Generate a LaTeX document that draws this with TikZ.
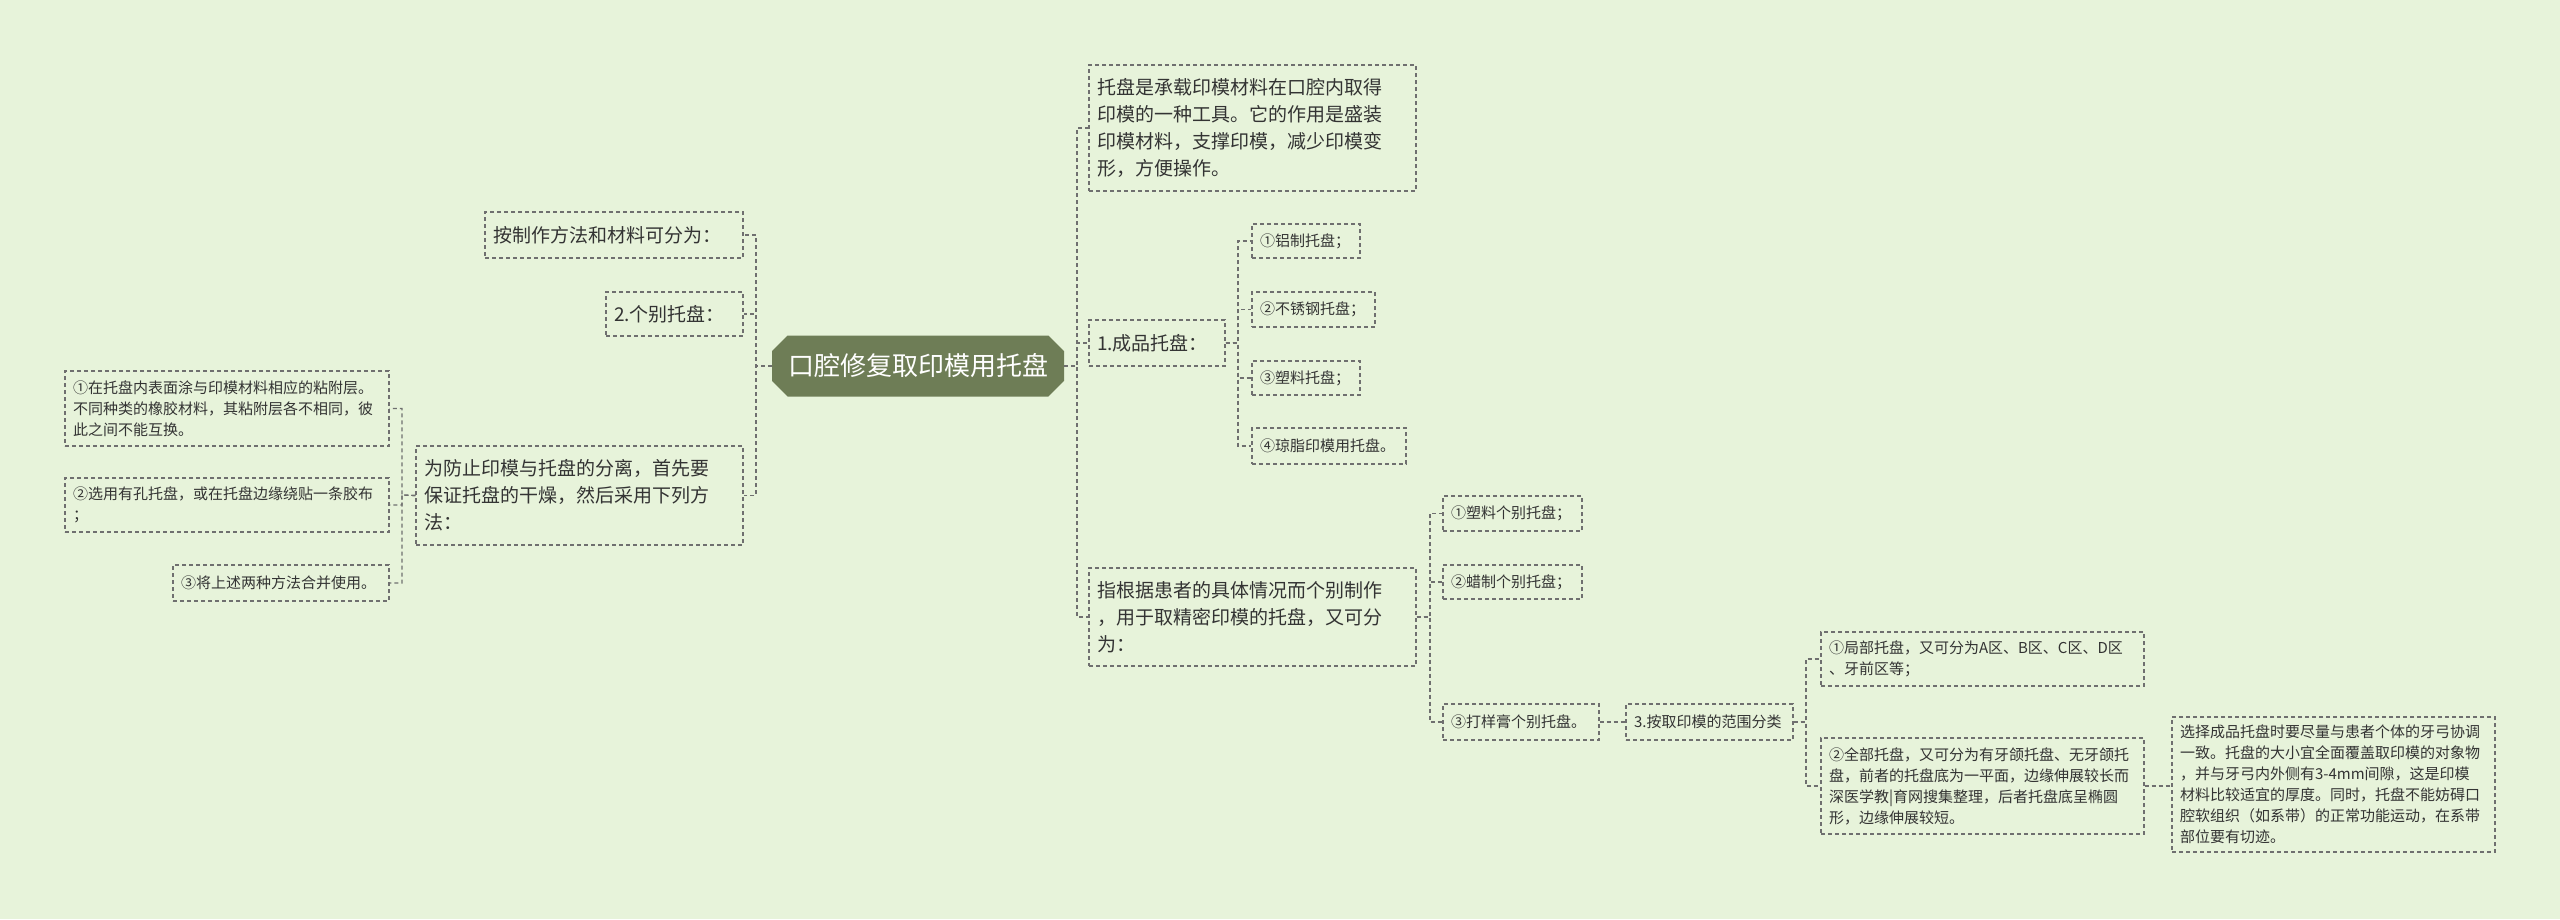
\documentclass[tikz,border=0pt]{standalone}
\usepackage{fontspec}
\setmainfont{Noto Sans CJK SC}
\usetikzlibrary{shapes.misc}
\definecolor{bg}{HTML}{E7F3DA}
\definecolor{rootc}{HTML}{6E7D56}
\definecolor{linec}{HTML}{6F6F6F}
\definecolor{txt}{HTML}{333333}
\tikzset{
 box/.style={draw=linec, dashed, dash pattern=on 4pt off 3pt, line width=1.2pt, inner sep=8pt, align=left, anchor=center, text=txt},
 big/.style={box, font=\fontsize{19}{27}\selectfont},
 small/.style={box, font=\fontsize{15}{21}\selectfont},
 conn/.style={draw=linec, dash pattern=on 4pt off 3pt, line width=1.2pt},
}
\newcommand{\bx}[7]{\node[#1, minimum width=#4-#2, minimum height=#5-#3, text width=#4-#2-16] (#6) at ({(#2+#4)/2},{-(#3+#5)/2}) {#7};}
\begin{document}
\begin{tikzpicture}[x=1pt,y=1pt]
\fill[bg] (0,0) rectangle (2560,-919);
\useasboundingbox (0,0) rectangle (2560,-919);
\node[chamfered rectangle, chamfered rectangle xsep=12pt, fill=rootc, text=white, minimum width=291, minimum height=61, inner sep=4pt, font=\fontsize{26}{30}\selectfont] (root) at (918,-366) {口腔修复取印模用托盘};
% right
\bx{big}{1089}{65}{1416}{191}{def}{托盘是承载印模材料在口腔内取得\\印模的一种工具。它的作用是盛装\\印模材料，支撑印模，减少印模变\\形，方便操作。}
\bx{big}{1089}{320}{1225}{366}{cp}{1.成品托盘：}
\bx{small}{1252}{224}{1360}{258}{c1}{①铝制托盘；}
\bx{small}{1252}{292}{1375}{327}{c2}{②不锈钢托盘；}
\bx{small}{1252}{361}{1360}{395}{c3}{③塑料托盘；}
\bx{small}{1252}{428}{1406}{464}{c4}{④琼脂印模用托盘。}
\bx{big}{1089}{568}{1416}{666}{gb}{指根据患者的具体情况而个别制作\\，用于取精密印模的托盘，又可分\\为：}
\bx{small}{1443}{496}{1582}{531}{g1}{①塑料个别托盘；}
\bx{small}{1443}{565}{1582}{599}{g2}{②蜡制个别托盘；}
\bx{small}{1443}{704}{1599}{740}{g3}{③打样膏个别托盘。}
\bx{small}{1626}{704}{1793}{740}{fw}{3.按取印模的范围分类}
\bx{small}{1821}{632}{2144}{686}{f1}{①局部托盘，又可分为A区、B区、C区、D区\\、牙前区等；}
\bx{small}{1821}{738}{2144}{834}{f2}{②全部托盘，又可分为有牙颌托盘、无牙颌托\\盘，前者的托盘底为一平面，边缘伸展较长而\\深医学教|育网搜集整理，后者托盘底呈椭圆\\形，边缘伸展较短。}
\bx{small}{2172}{717}{2495}{852}{xz}{选择成品托盘时要尽量与患者个体的牙弓协调\\一致。托盘的大小宜全面覆盖取印模的对象物\\，并与牙弓内外侧有3-4mm间隙，这是印模\\材料比较适宜的厚度。同时，托盘不能妨碍口\\腔软组织（如系带）的正常功能运动，在系带\\部位要有切迹。}
% left
\bx{big}{485}{212}{743}{258}{zz}{按制作方法和材料可分为：}
\bx{big}{606}{292}{743}{336}{gt}{2.个别托盘：}
\bx{big}{416}{446}{743}{545}{fz}{为防止印模与托盘的分离，首先要\\保证托盘的干燥，然后采用下列方\\法：}
\bx{small}{65}{371}{389}{446}{l1}{①在托盘内表面涂与印模材料相应的粘附层。\\不同种类的橡胶材料，其粘附层各不相同，彼\\此之间不能互换。}
\bx{small}{65}{478}{389}{532}{l2}{②选用有孔托盘，或在托盘边缘绕贴一条胶布\\；}
\bx{small}{173}{565}{389}{601}{l3}{③将上述两种方法合并使用。}
% connectors right
\foreach \t in {def,cp,gb} \draw[conn] (root.east) -- (1077,-366) |- (\t.west);
\foreach \t in {c1,c2,c3,c4} \draw[conn] (cp.east) -- (1238,-343) |- (\t.west);
\foreach \t in {g1,g2,g3} \draw[conn] (gb.east) -- (1430,-617) |- (\t.west);
\draw[conn] (g3.east) -- (fw.west);
\foreach \t in {f1,f2} \draw[conn] (fw.east) -- (1806,-722) |- (\t.west);
\draw[conn] (f2.east) -- (xz.west |- f2.east);
% connectors left
\foreach \t in {zz,gt,fz} \draw[conn] (root.west) -- (756,-366) |- (\t.east);
\foreach \t in {l1,l2,l3} \draw[conn] (fz.west) -- (402,-495) |- (\t.east);
\end{tikzpicture}
\end{document}
